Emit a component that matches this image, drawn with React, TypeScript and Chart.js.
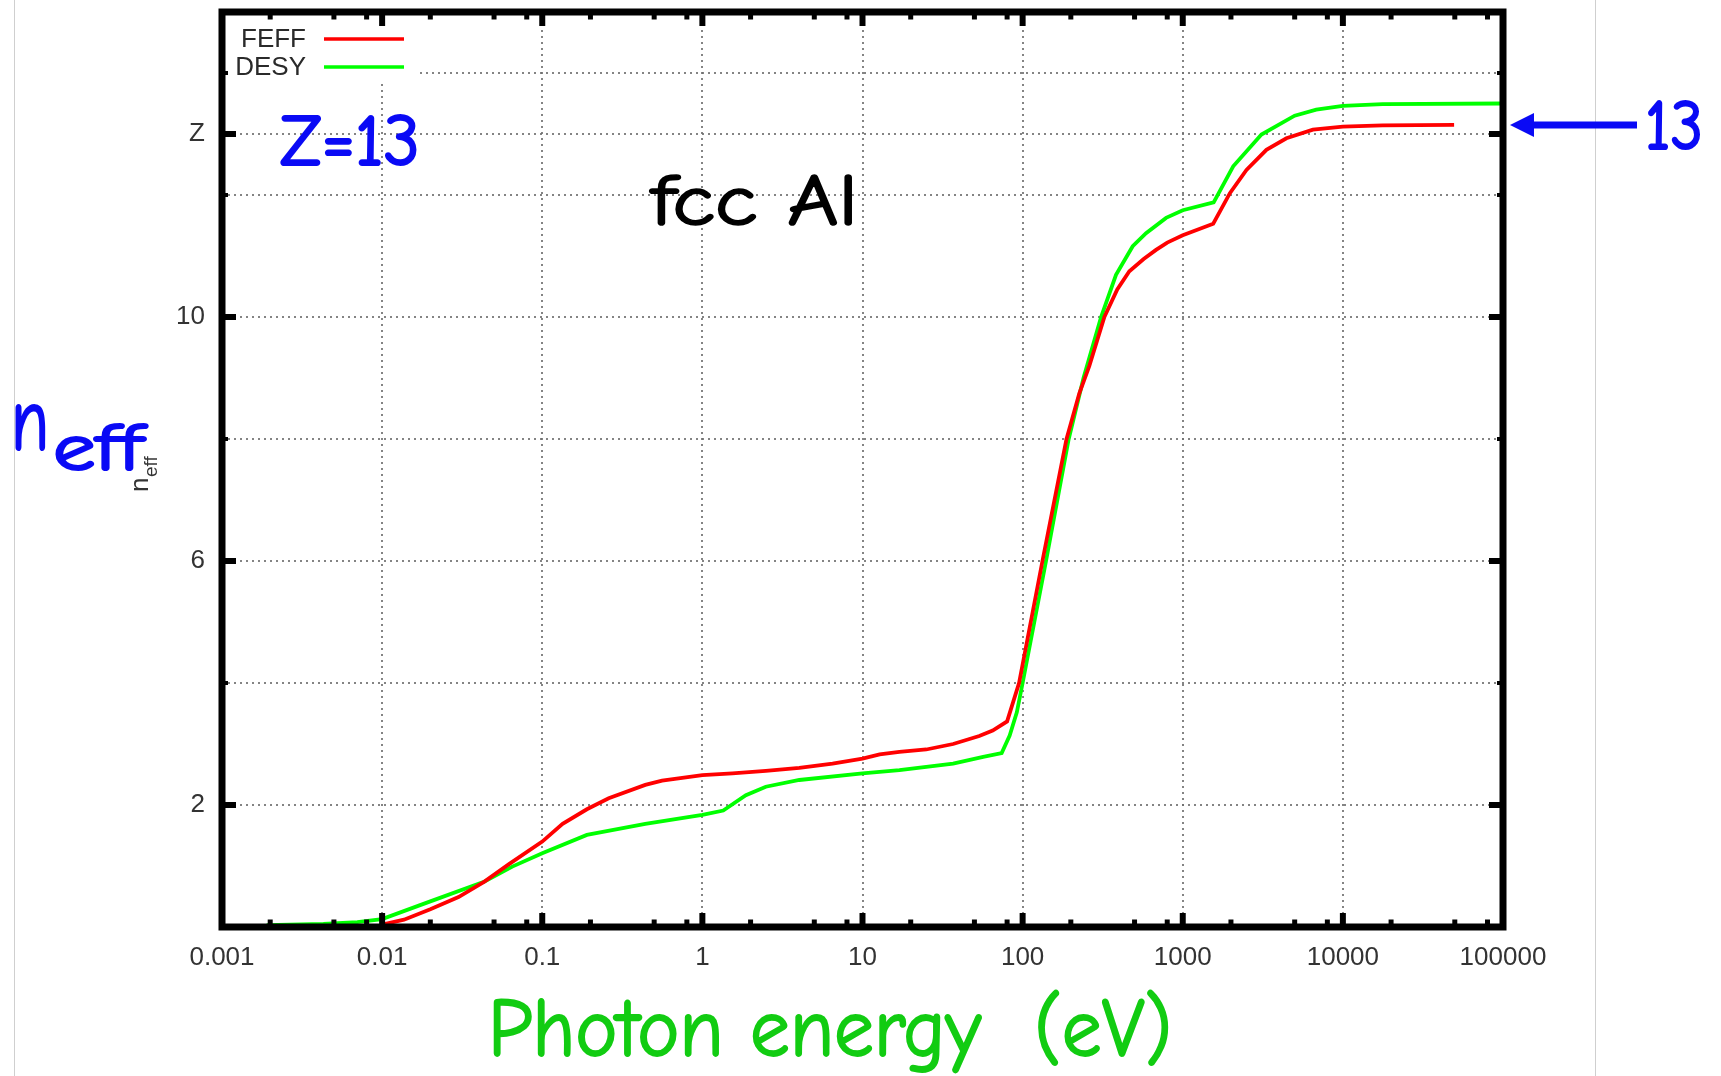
import { useEffect, useRef } from 'react';
import { Chart, registerables } from 'chart.js';

Chart.register(...registerables);

// FEFF effective electron number vs photon energy (eV)
const feffEnergy = [
  0.01, 0.0137, 0.02, 0.03, 0.0433, 0.062, 0.1, 0.134, 0.19, 0.26, 0.44, 0.56, 1,
  1.54, 2.49, 4.03, 6.5, 10, 12.8, 17, 25, 36.8, 53.6, 65, 80, 95, 133, 188, 226,
  261, 324, 390, 464, 570, 681, 800, 1000, 1550, 1970, 2500, 3330, 4440, 6500,
  10000, 17700, 49500,
];
const feffNeff = [
  0.04, 0.12, 0.29, 0.49, 0.74, 1.03, 1.4, 1.69, 1.93, 2.11, 2.33, 2.4, 2.49,
  2.52, 2.56, 2.61, 2.68, 2.76, 2.83, 2.87, 2.91, 3.0, 3.13, 3.22, 3.37, 4.0, 6.0,
  8.0, 8.75, 9.2, 10.0, 10.45, 10.75, 10.95, 11.1, 11.22, 11.34, 11.53, 12.03,
  12.41, 12.74, 12.93, 13.07, 13.12, 13.14, 13.15,
];

// DESY effective electron number vs photon energy (eV)
const desyEnergy = [
  0.0019, 0.0043, 0.007, 0.01, 0.02, 0.0433, 0.065, 0.1, 0.19, 0.44, 1.0, 1.35,
  1.87, 2.49, 4.03, 10, 17, 36.8, 56.7, 74, 83, 92, 100, 140, 194, 240, 309, 383,
  487, 590, 787, 1000, 1560, 2066, 3100, 5000, 6820, 10000, 17700, 100000,
];
const desyNeff = [
  0.03, 0.05, 0.08, 0.13, 0.42, 0.74, 0.99, 1.21, 1.51, 1.69, 1.84, 1.91, 2.16, 2.3,
  2.41, 2.52, 2.57, 2.68, 2.79, 2.85, 3.14, 3.52, 4.0, 6.0, 8.0, 9.0, 10.0, 10.69,
  11.16, 11.375, 11.625, 11.75, 11.88, 12.47, 12.99, 13.3, 13.4, 13.46, 13.49, 13.5,
];

const seriesLabels = ['FEFF', 'DESY'];
const seriesColors = ['#ff0000', '#00ff00'];

const xTickValues = [0.001, 0.01, 0.1, 1, 10, 100, 1000, 10000, 100000];
const xTickLabels = ['0.001', '0.01', '0.1', '1', '10', '100', '1000', '10000', '100000'];
const xMinorFactors = [2, 5, 8];

const yGridValues = [2, 4, 6, 8, 10, 12, 13, 14];
const yLabeledValues = [2, 6, 10, 13];
const yLabelTexts = ['2', '6', '10', 'Z'];

const Z_VALUE = 13;

const W = 1721;
const H = 1076;

const TICK_FONT = "'Liberation Sans', Arial, Helvetica, sans-serif";
const HAND_FONT = "'Comic Sans MS', 'Comic Neue', Lato, sans-serif";
const BLUE = '#0a0af5';
const GREEN_TEXT = '#12cc12';

// Hand-lettered annotation, stretched to a given width and thickened with a stroke
function fitText(
  ctx: CanvasRenderingContext2D,
  text: string,
  x: number,
  baseline: number,
  size: number,
  width: number,
  color: string,
  thicken = 2.2
) {
  ctx.save();
  ctx.font = `${size}px ${HAND_FONT}`;
  const w = ctx.measureText(text).width;
  ctx.translate(x, baseline);
  ctx.scale(width / w, 1);
  ctx.fillStyle = color;
  ctx.strokeStyle = color;
  ctx.lineWidth = thicken;
  ctx.lineJoin = 'round';
  ctx.textAlign = 'left';
  ctx.textBaseline = 'alphabetic';
  ctx.fillText(text, 0, 0);
  ctx.strokeText(text, 0, 0);
  ctx.restore();
}

const decorPlugin = {
  id: 'decor',
  afterDraw(chart: any) {
    const { ctx, chartArea } = chart;
    const { left, right, top, bottom } = chartArea;
    const xs = chart.scales.x;
    const ys = chart.scales.y;

    ctx.save();

    // page edge rules
    ctx.strokeStyle = '#cfcfcf';
    ctx.lineWidth = 1;
    ctx.beginPath();
    ctx.moveTo(14.5, 0);
    ctx.lineTo(14.5, H);
    ctx.moveTo(1595.5, 0);
    ctx.lineTo(1595.5, H);
    ctx.stroke();

    // key box
    ctx.fillStyle = '#ffffff';
    ctx.fillRect(left, top, 420 - left, 82 - top);
    ctx.font = `26px ${TICK_FONT}`;
    ctx.textAlign = 'right';
    ctx.textBaseline = 'middle';
    const rows = [39, 67];
    chart.data.datasets.forEach((ds: any, i: number) => {
      ctx.fillStyle = '#2a2a2a';
      ctx.fillText(ds.label, 306, rows[i] + 1);
      ctx.strokeStyle = ds.borderColor;
      ctx.lineWidth = 3.5;
      ctx.beginPath();
      ctx.moveTo(324, rows[i]);
      ctx.lineTo(404, rows[i]);
      ctx.stroke();
    });

    // tick marks pointing inward
    ctx.strokeStyle = '#000';
    ctx.lineCap = 'butt';
    const tick = (x1: number, y1: number, x2: number, y2: number, w: number) => {
      ctx.lineWidth = w;
      ctx.beginPath();
      ctx.moveTo(x1, y1);
      ctx.lineTo(x2, y2);
      ctx.stroke();
    };
    xTickValues.forEach((v) => {
      const px = xs.getPixelForValue(v);
      tick(px, bottom, px, bottom - 14, 6);
      tick(px, top, px, top + 14, 6);
      if (v < 100000) {
        xMinorFactors.forEach((f) => {
          const mx = xs.getPixelForValue(v * f);
          tick(mx, bottom, mx, bottom - 7.5, 5);
          tick(mx, top, mx, top + 7.5, 5);
        });
      }
    });
    yGridValues.forEach((v) => {
      const py = ys.getPixelForValue(v);
      const major = yLabeledValues.includes(v);
      const len = major ? 14 : 6;
      tick(left, py, left + len, py, major ? 6 : 4);
      tick(right, py, right - len, py, major ? 6 : 4);
    });

    // frame
    ctx.lineWidth = 7;
    ctx.strokeRect(left, top, right - left, bottom - top);

    // annotations
    fitText(ctx, 'Z=13', 280, 165, 72, 140, BLUE);
    fitText(ctx, 'fcc Al', 651, 225, 72, 207, '#000', 1.6);
    fitText(ctx, 'n', 11, 450, 90, 38, BLUE);
    fitText(ctx, 'eff', 53, 470, 66, 90, BLUE);
    fitText(ctx, 'Photon energy  (eV)', 488, 1056, 82, 684, GREEN_TEXT, 1.8);

    // arrow pointing at Z on the right axis
    const zy = ys.getPixelForValue(Z_VALUE) - 9;
    ctx.strokeStyle = BLUE;
    ctx.fillStyle = BLUE;
    ctx.lineWidth = 7;
    ctx.beginPath();
    ctx.moveTo(1530, zy);
    ctx.lineTo(1637, zy);
    ctx.stroke();
    ctx.beginPath();
    ctx.moveTo(1510, zy);
    ctx.lineTo(1534, zy - 12);
    ctx.lineTo(1534, zy + 12);
    ctx.closePath();
    ctx.fill();
    fitText(ctx, String(Z_VALUE), 1645, 149, 70, 58, BLUE);

    // small rotated axis title
    ctx.save();
    ctx.translate(148, 492);
    ctx.rotate(-Math.PI / 2);
    ctx.fillStyle = '#333';
    ctx.textAlign = 'left';
    ctx.textBaseline = 'alphabetic';
    ctx.font = `26px ${TICK_FONT}`;
    ctx.fillText('n', 0, 0);
    ctx.font = `19px ${TICK_FONT}`;
    ctx.fillText('eff', 15, 9);
    ctx.restore();

    ctx.restore();
  },
};

export default function App() {
  const canvasRef = useRef<HTMLCanvasElement | null>(null);

  useEffect(() => {
    const canvas = canvasRef.current;
    if (!canvas) return;

    const toPoints = (xsArr: number[], ysArr: number[]) =>
      xsArr.map((x, i) => ({ x, y: ysArr[i] }));

    const chart = new Chart(canvas, {
      type: 'scatter',
      data: {
        datasets: [
          {
            label: seriesLabels[0],
            data: toPoints(feffEnergy, feffNeff),
            borderColor: seriesColors[0],
            backgroundColor: seriesColors[0],
            showLine: true,
            pointRadius: 0,
            borderWidth: 3.8,
            tension: 0,
          },
          {
            label: seriesLabels[1],
            data: toPoints(desyEnergy, desyNeff),
            borderColor: seriesColors[1],
            backgroundColor: seriesColors[1],
            showLine: true,
            pointRadius: 0,
            borderWidth: 3.8,
            tension: 0,
          },
        ],
      },
      options: {
        responsive: false,
        animation: false,
        devicePixelRatio: 1,
        layout: { padding: { left: 0, top: 12, right: 218, bottom: 0 } },
        plugins: {
          legend: { display: false },
          tooltip: { enabled: false },
        },
        scales: {
          x: {
            type: 'logarithmic',
            min: 0.001,
            max: 100000,
            afterBuildTicks: (s: any) => {
              s.ticks = xTickValues.map((value) => ({ value }));
            },
            afterFit: (s: any) => {
              s.height = 149;
              s.paddingLeft = 0;
              s.paddingRight = 0;
              s.paddingTop = 0;
              s.paddingBottom = 0;
            },
            ticks: {
              autoSkip: false,
              maxRotation: 0,
              padding: 15,
              color: '#333',
              font: { family: TICK_FONT, size: 26 },
              callback: (value: any) => {
                const i = xTickValues.findIndex((v) => Math.abs(v - Number(value)) / v < 1e-6);
                return i >= 0 ? xTickLabels[i] : '';
              },
            },
            grid: {
              drawTicks: false,
              color: 'rgba(110,110,110,0.85)',
              lineWidth: 2,
            },
            border: { display: false, dash: [2, 4] },
          },
          y: {
            type: 'linear',
            min: 0,
            max: 15,
            afterBuildTicks: (s: any) => {
              s.ticks = yGridValues.map((value) => ({ value }));
            },
            afterFit: (s: any) => {
              s.width = 222;
              s.paddingLeft = 0;
              s.paddingRight = 0;
              s.paddingTop = 0;
              s.paddingBottom = 0;
            },
            ticks: {
              autoSkip: false,
              padding: 17,
              color: '#333',
              font: { family: TICK_FONT, size: 26 },
              callback: (value: any) => {
                const i = yLabeledValues.indexOf(Number(value));
                return i >= 0 ? yLabelTexts[i] : '';
              },
            },
            grid: {
              drawTicks: false,
              color: 'rgba(110,110,110,0.85)',
              lineWidth: 2,
            },
            border: { display: false, dash: [2, 4] },
          },
        },
      },
      plugins: [decorPlugin],
    } as any);

    return () => {
      chart.destroy();
    };
  }, []);

  return (
    <div
      style={{
        position: 'absolute',
        left: 0,
        top: 0,
        width: W,
        height: H,
        background: '#ffffff',
      }}
    >
      <canvas ref={canvasRef} width={W} height={H} style={{ display: 'block' }} />
    </div>
  );
}
